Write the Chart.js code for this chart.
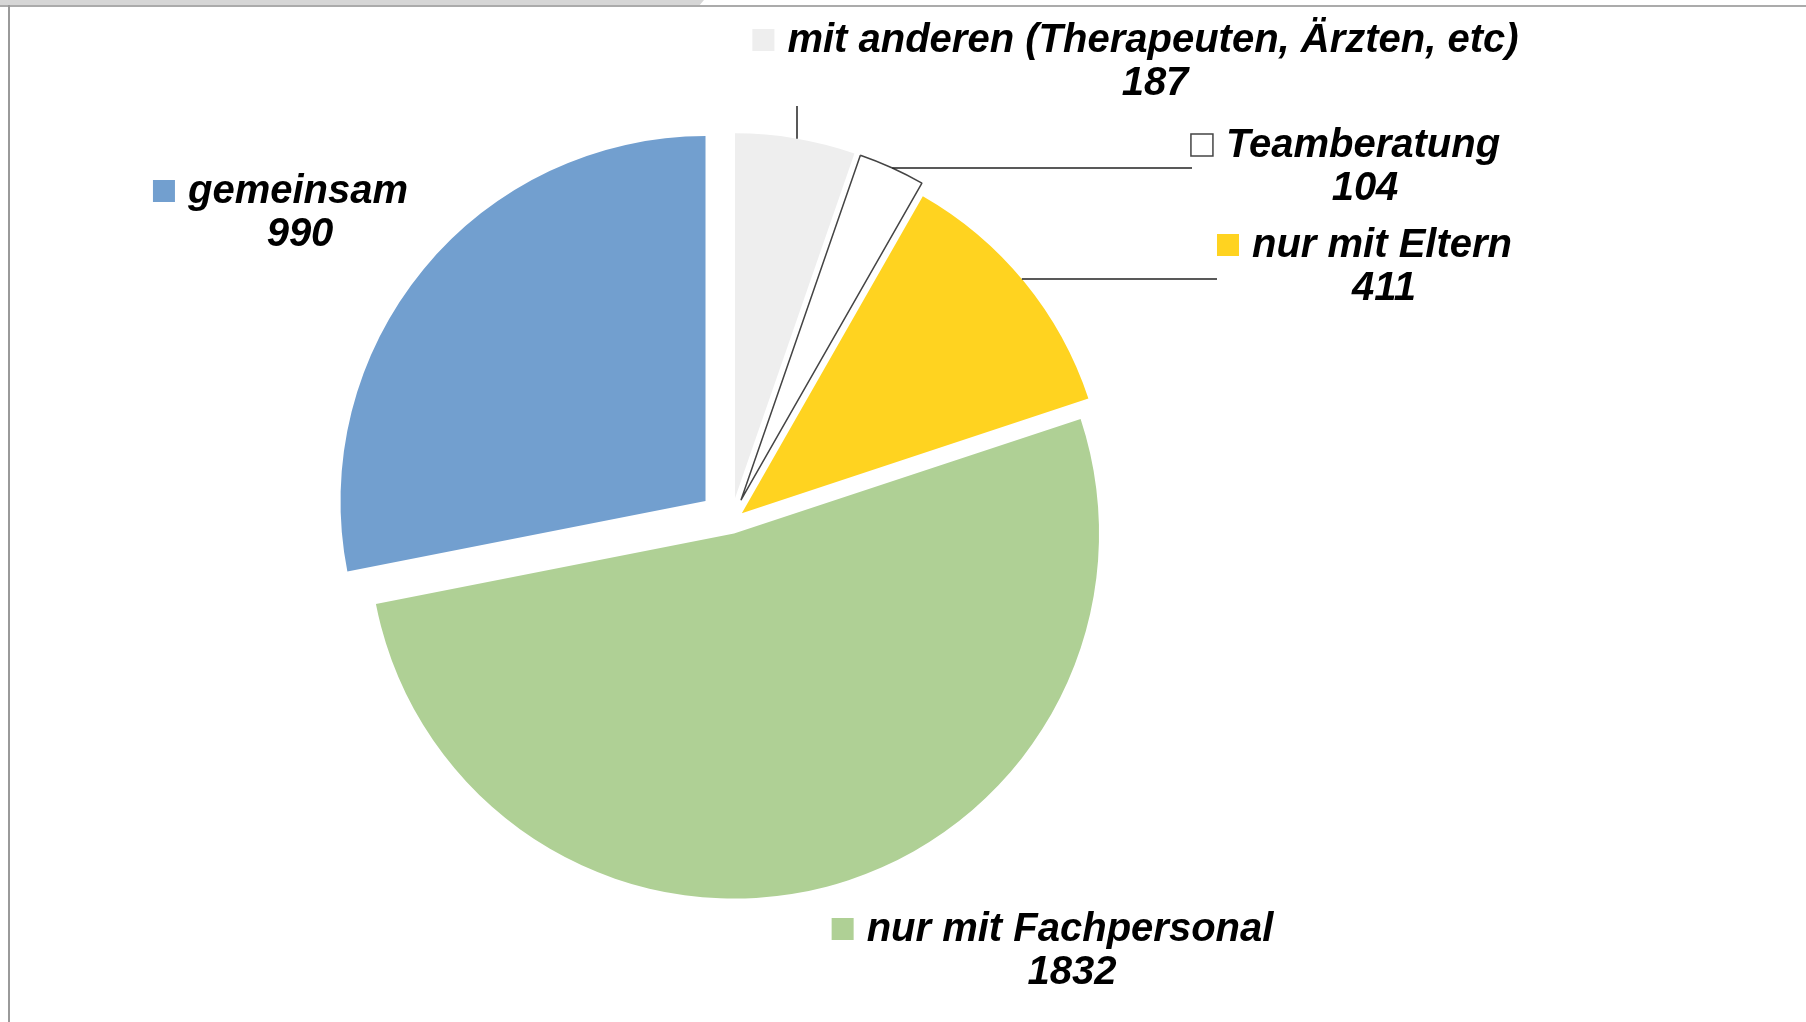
<!DOCTYPE html>
<html>
<head>
<meta charset="utf-8">
<title>Beratungen</title>
<script src="https://cdn.jsdelivr.net/npm/chart.js@4.4.1/dist/chart.umd.min.js"></script>
<style>
  html, body { margin: 0; padding: 0; background: #fff; overflow: hidden; }
  #frameTab { position: absolute; left: 0; top: 0; width: 704px; height: 5px; background: #d6d6d6;
              clip-path: polygon(0 0, 100% 0, 99.4% 100%, 0 100%); }
  #frameTop { position: absolute; left: 0; top: 5px; width: 1806px; height: 2px; background: #ababab; }
  #frameLeft { position: absolute; left: 8px; top: 5px; width: 2px; height: 1017px; background: #9a9a9a; }
  #wrap { position: absolute; left: 0; top: 0; width: 1806px; height: 1022px; }
</style>
</head>
<body>
<div id="frameTab"></div>
<div id="frameTop"></div>
<div id="frameLeft"></div>
<div id="wrap"><canvas id="chart-pie" width="1806" height="1022"></canvas></div>
<script>
// Slices, clockwise from 12 o'clock
var categories = ['mit anderen (Therapeuten, Ärzten, etc)', 'Teamberatung', 'nur mit Eltern', 'nur mit Fachpersonal', 'gemeinsam'];
var counts = [187, 104, 411, 1832, 990];

var sliceColors = ['#eeeeee', '#ffffff', '#ffd320', '#afd095', '#729fcf'];
var sliceBorders = [0, 1.5, 0, 0, 0];
// chart.js moves a slice by offset/4 along its middle angle
var explode = [96, 96, 56, 48, 132];

var PIE_RADIUS = 365;
var LABEL_FONT = 'italic bold 40px "Liberation Sans", Arial, sans-serif';

// where the two-line labels sit (center x of the name, baseline of the name)
var labelPlaces = [
  { x: 1153, y: 52,  lead: { dir: 'v', x: 797, y: 106 } },
  { x: 1363, y: 157, lead: { dir: 'h', x: 1192, y: 168 } },
  { x: 1382, y: 257, lead: { dir: 'h', x: 1217, y: 279 } },
  { x: 1070, y: 941 },
  { x: 298,  y: 203 }
];

var chart;

// chart.js grows small exploded slices and trims their angle a bit,
// undo that so every slice keeps the plain radius and its true share
var sliceFixPlugin = {
  id: 'sliceFix',
  afterDatasetsUpdate: function(chart) {
    var meta = chart.getDatasetMeta(0);
    meta.data.forEach(function(arc) {
      var shift = (arc.options.offset || 0) / 4;
      var fix = 1 - Math.sin(Math.min(Math.PI, arc.circumference));
      var grow = shift * fix;
      var pad = grow / (2 * Math.PI * PIE_RADIUS);
      arc.outerRadius = PIE_RADIUS - grow;
      arc.startAngle -= pad;
      arc.endAngle += pad;
    });
  }
};

function arcCenter(arc)
{
  var shift = (arc.options.offset || 0) / 4;
  var mid = (arc.startAngle + arc.endAngle) / 2;
  return { x: arc.x + Math.cos(mid) * shift, y: arc.y + Math.sin(mid) * shift };
}

var labelPlugin = {
  id: 'sliceLabels',
  afterDraw: function(chart) {
    var ctx = chart.ctx;
    var meta = chart.getDatasetMeta(0);
    ctx.save();
    ctx.font = LABEL_FONT;
    ctx.textBaseline = 'alphabetic';

    for (var i = 0; i < labelPlaces.length; i++) {
      var place = labelPlaces[i];
      var arc = meta.data[i];

      // leader line from the label to the slice edge
      if (place.lead) {
        var c = arcCenter(arc);
        var ex, ey;
        if (place.lead.dir == 'v') {
          ex = place.lead.x;
          ey = c.y - Math.sqrt(PIE_RADIUS * PIE_RADIUS - (ex - c.x) * (ex - c.x));
        } else {
          ey = place.lead.y;
          ex = c.x + Math.sqrt(PIE_RADIUS * PIE_RADIUS - (ey - c.y) * (ey - c.y));
        }
        ctx.beginPath();
        ctx.moveTo(place.lead.x, place.lead.y);
        ctx.lineTo(ex, ey);
        ctx.lineWidth = 1.5;
        ctx.strokeStyle = '#222';
        ctx.stroke();
      }

      var name = chart.data.labels[i];
      var w = ctx.measureText(name).width;
      var left = place.x - w / 2;

      // colour key square
      ctx.fillStyle = sliceColors[i];
      ctx.fillRect(left - 35, place.y - 23, 22, 22);
      if (sliceBorders[i] > 0) {
        ctx.lineWidth = 1.5;
        ctx.strokeStyle = '#444';
        ctx.strokeRect(left - 35, place.y - 23, 22, 22);
      }

      ctx.fillStyle = '#000';
      ctx.textAlign = 'left';
      ctx.fillText(name, left, place.y);
      ctx.textAlign = 'center';
      ctx.fillText(String(chart.data.datasets[0].data[i]), place.x + 2, place.y + 43);
    }
    ctx.restore();
  }
};

function initChart() {
  var ctx = document.getElementById('chart-pie').getContext('2d');
  chart = new Chart(ctx, {
    type: 'pie',
    data: {
      labels: categories,
      datasets: [{
        data: counts,
        backgroundColor: sliceColors,
        borderColor: '#444',
        borderWidth: sliceBorders,
        offset: explode
      }]
    },
    options: {
      responsive: false,
      animation: false,
      events: [],
      radius: PIE_RADIUS,
      // chart area centre lands on (731, 522)
      layout: { padding: { left: 0, right: 344, top: 22, bottom: 0 } },
      plugins: {
        legend: { display: false },
        tooltip: { enabled: false }
      }
    },
    plugins: [sliceFixPlugin, labelPlugin]
  });
}

window.addEventListener('load', initChart);
</script>
</body>
</html>
